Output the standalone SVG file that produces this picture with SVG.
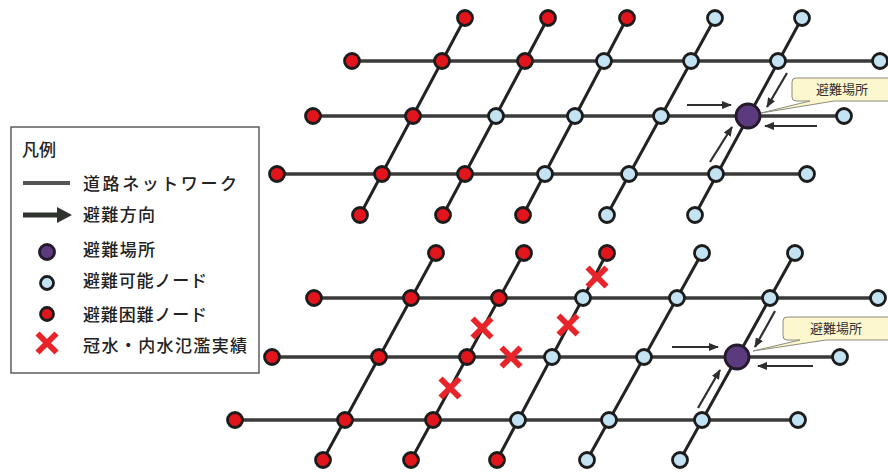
<svg xmlns="http://www.w3.org/2000/svg" xmlns:xlink="http://www.w3.org/1999/xlink" width="888" height="472" viewBox="0 0 888 472">
<style>
.road{stroke:#3a3a3a;stroke-width:3.5;fill:none}
.diag{stroke:#222;stroke-width:3;fill:none}
.evac{stroke:#2e2e2e;stroke-width:2.2;fill:none;marker-end:url(#ah)}
.r{fill:#e3151c;stroke:#1c1c1c;stroke-width:2.8}
.b{fill:#c3e2f2;stroke:#1c1c1c;stroke-width:2.8}
.p{fill:#5b3b7e;stroke:#241a2c;stroke-width:2.8}
.x{stroke:#e8242b;stroke-width:5.8;fill:none}
.lt{font-family:"Noto Sans CJK JP","Noto Sans",sans-serif;font-size:17px;font-weight:500;fill:#222}
.ct{font-family:"Noto Sans CJK JP","Noto Sans",sans-serif;font-size:13px;fill:#333;text-anchor:middle}
.callout{fill:#fdf7cf;stroke:#8c8c7c;stroke-width:1}
</style>
<defs>
<marker id="ah" markerUnits="userSpaceOnUse" markerWidth="10" markerHeight="8" refX="9" refY="4" orient="auto">
<path d="M0,0 L10,4 L0,8 Z" fill="#2e2e2e"/>
</marker>
<path id="xm" class="x" d="M-9.5,-9.5 L9.5,9.5 M9.5,-9.5 L-9.5,9.5"/>
</defs>
<rect width="888" height="472" fill="#fff"/>

<g id="connectors">
<line class="road" x1="352" y1="61" x2="880" y2="61"/>
<line class="road" x1="313" y1="116" x2="844" y2="116"/>
<line class="road" x1="277" y1="174" x2="807" y2="174"/>
<line class="diag" x1="465" y1="18" x2="360" y2="215"/>
<line class="diag" x1="548" y1="18" x2="443" y2="215"/>
<line class="diag" x1="627" y1="18" x2="523" y2="215"/>
<line class="diag" x1="715" y1="18" x2="607" y2="215"/>
<line class="diag" x1="802" y1="18" x2="695" y2="215"/>
<line class="road" x1="314" y1="298" x2="878" y2="298"/>
<line class="road" x1="272" y1="357" x2="840" y2="357"/>
<line class="road" x1="235" y1="420" x2="798" y2="420"/>
<line class="diag" x1="436" y1="253" x2="323" y2="460"/>
<line class="diag" x1="524" y1="253" x2="411" y2="460"/>
<line class="diag" x1="607" y1="253" x2="497" y2="460"/>
<line class="diag" x1="702" y1="253" x2="587" y2="460"/>
<line class="diag" x1="795" y1="253" x2="680" y2="460"/>
<line class="evac" x1="687" y1="105" x2="731" y2="105"/>
<line class="evac" x1="817" y1="126" x2="765" y2="126"/>
<line class="evac" x1="787" y1="73" x2="767" y2="107"/>
<line class="evac" x1="710" y1="162" x2="732" y2="127"/>
<line class="evac" x1="672" y1="347" x2="718" y2="347"/>
<line class="evac" x1="813" y1="366" x2="758" y2="366"/>
<line class="evac" x1="775" y1="311" x2="755" y2="347"/>
<line class="evac" x1="698" y1="408" x2="720" y2="370"/>
</g>

<g id="top-nodes">
<g id="t-top-1"><circle class="r" cx="465" cy="18" r="7.5"/></g>
<g id="t-top-2"><circle class="r" cx="548" cy="18" r="7.5"/></g>
<g id="t-top-3"><circle class="r" cx="627" cy="18" r="7.5"/></g>
<g id="t-top-4"><circle class="b" cx="715" cy="18" r="7.5"/></g>
<g id="t-top-5"><circle class="b" cx="802" cy="18" r="7.5"/></g>
<g id="t-a-0"><circle class="r" cx="352" cy="61" r="7.5"/></g>
<g id="t-a-1"><circle class="r" cx="442" cy="61" r="7.5"/></g>
<g id="t-a-2"><circle class="r" cx="525" cy="61" r="7.5"/></g>
<g id="t-a-3"><circle class="b" cx="604" cy="61" r="7.5"/></g>
<g id="t-a-4"><circle class="b" cx="691" cy="61" r="7.5"/></g>
<g id="t-a-5"><circle class="b" cx="778" cy="61" r="7.5"/></g>
<g id="t-a-6"><circle class="b" cx="880" cy="61" r="7.5"/></g>
<g id="t-b-0"><circle class="r" cx="313" cy="116" r="7.5"/></g>
<g id="t-b-1"><circle class="r" cx="413" cy="116" r="7.5"/></g>
<g id="t-b-2"><circle class="b" cx="496" cy="116" r="7.5"/></g>
<g id="t-b-3"><circle class="b" cx="575" cy="116" r="7.5"/></g>
<g id="t-b-4"><circle class="b" cx="661" cy="116" r="7.5"/></g>
<g id="t-shelter"><circle class="p" cx="748" cy="116" r="12"/></g>
<g id="t-b-6"><circle class="b" cx="844" cy="116" r="7.5"/></g>
<g id="t-c-0"><circle class="r" cx="277" cy="174" r="7.5"/></g>
<g id="t-c-1"><circle class="r" cx="382" cy="174" r="7.5"/></g>
<g id="t-c-2"><circle class="r" cx="465" cy="174" r="7.5"/></g>
<g id="t-c-3"><circle class="b" cx="545" cy="174" r="7.5"/></g>
<g id="t-c-4"><circle class="b" cx="629" cy="174" r="7.5"/></g>
<g id="t-c-5"><circle class="b" cx="716" cy="174" r="7.5"/></g>
<g id="t-c-6"><circle class="b" cx="807" cy="174" r="7.5"/></g>
<g id="t-bot-1"><circle class="r" cx="360" cy="215" r="7.5"/></g>
<g id="t-bot-2"><circle class="r" cx="443" cy="215" r="7.5"/></g>
<g id="t-bot-3"><circle class="r" cx="523" cy="215" r="7.5"/></g>
<g id="t-bot-4"><circle class="b" cx="607" cy="215" r="7.5"/></g>
<g id="t-bot-5"><circle class="b" cx="695" cy="215" r="7.5"/></g>
</g>

<g id="bottom-nodes">
<g id="b-top-1"><circle class="r" cx="436" cy="253" r="7.5"/></g>
<g id="b-top-2"><circle class="r" cx="524" cy="253" r="7.5"/></g>
<g id="b-top-3"><circle class="r" cx="607" cy="253" r="7.5"/></g>
<g id="b-top-4"><circle class="b" cx="702" cy="253" r="7.5"/></g>
<g id="b-top-5"><circle class="b" cx="795" cy="253" r="7.5"/></g>
<g id="b-a-0"><circle class="r" cx="314" cy="298" r="7.5"/></g>
<g id="b-a-1"><circle class="r" cx="411" cy="298" r="7.5"/></g>
<g id="b-a-2"><circle class="r" cx="499" cy="298" r="7.5"/></g>
<g id="b-a-3"><circle class="b" cx="583" cy="298" r="7.5"/></g>
<g id="b-a-4"><circle class="b" cx="677" cy="298" r="7.5"/></g>
<g id="b-a-5"><circle class="b" cx="770" cy="298" r="7.5"/></g>
<g id="b-a-6"><circle class="b" cx="878" cy="298" r="7.5"/></g>
<g id="b-b-0"><circle class="r" cx="272" cy="357" r="7.5"/></g>
<g id="b-b-1"><circle class="r" cx="379" cy="357" r="7.5"/></g>
<g id="b-b-2"><circle class="r" cx="467" cy="357" r="7.5"/></g>
<g id="b-b-3"><circle class="b" cx="552" cy="357" r="7.5"/></g>
<g id="b-b-4"><circle class="b" cx="644" cy="357" r="7.5"/></g>
<g id="b-shelter"><circle class="p" cx="737" cy="357" r="12"/></g>
<g id="b-b-6"><circle class="b" cx="840" cy="357" r="7.5"/></g>
<g id="b-c-0"><circle class="r" cx="235" cy="420" r="7.5"/></g>
<g id="b-c-1"><circle class="r" cx="345" cy="420" r="7.5"/></g>
<g id="b-c-2"><circle class="r" cx="433" cy="420" r="7.5"/></g>
<g id="b-c-3"><circle class="b" cx="518" cy="420" r="7.5"/></g>
<g id="b-c-4"><circle class="b" cx="609" cy="420" r="7.5"/></g>
<g id="b-c-5"><circle class="b" cx="702" cy="420" r="7.5"/></g>
<g id="b-c-6"><circle class="b" cx="798" cy="420" r="7.5"/></g>
<g id="b-bot-1"><circle class="r" cx="323" cy="460" r="7.5"/></g>
<g id="b-bot-2"><circle class="r" cx="411" cy="460" r="7.5"/></g>
<g id="b-bot-3"><circle class="r" cx="497" cy="460" r="7.5"/></g>
<g id="b-bot-4"><circle class="b" cx="587" cy="460" r="7.5"/></g>
<g id="b-bot-5"><circle class="b" cx="680" cy="460" r="7.5"/></g>
</g>

<g id="flood-marks">
<use href="#xm" x="597" y="277"/>
<use href="#xm" x="568" y="325"/>
<use href="#xm" x="482" y="328"/>
<use href="#xm" x="511" y="357"/>
<use href="#xm" x="450" y="388"/>
</g>

<g id="callout-top">
<path class="callout" d="M796,78 H894 V101 H834 L761,113 L810,101 H796 Q792,101 792,97 V82 Q792,78 796,78 Z"/>
<text class="ct" x="842" y="94">避難場所</text>
</g>
<g id="callout-bottom">
<path class="callout" d="M787,317 H894 V340 H826 L753,351 L800,340 H787 Q783,340 783,336 V321 Q783,317 787,317 Z"/>
<text class="ct" x="836" y="333">避難場所</text>
</g>

<g id="legend">
<rect x="11" y="127" width="248" height="246" fill="#fff" stroke="#444" stroke-width="1.3"/>
<text class="lt" x="22" y="156">凡例</text>
<line x1="23" y1="183" x2="70" y2="183" stroke="#555" stroke-width="4"/>
<text class="lt" x="83" y="190" textLength="154" lengthAdjust="spacing">道路ネットワーク</text>
<line x1="23" y1="215" x2="60" y2="215" stroke="#2f342f" stroke-width="5"/>
<path d="M57,207 L72,215 L57,223 Z" fill="#2f342f"/>
<text class="lt" x="83" y="221" textLength="72" lengthAdjust="spacing">避難方向</text>
<circle class="p" cx="47" cy="252" r="7.5" stroke-width="1.5"/>
<text class="lt" x="83" y="256" textLength="72" lengthAdjust="spacing">避難場所</text>
<circle class="b" cx="47" cy="283" r="6.5"/>
<text class="lt" x="83" y="287" textLength="124" lengthAdjust="spacing">避難可能ノード</text>
<circle class="r" cx="47" cy="314" r="6.5"/>
<text class="lt" x="83" y="321" textLength="124" lengthAdjust="spacing">避難困難ノード</text>
<use href="#xm" x="47" y="343"/>
<text class="lt" x="83" y="352" textLength="164" lengthAdjust="spacing">冠水・内水氾濫実績</text>
</g>
</svg>
